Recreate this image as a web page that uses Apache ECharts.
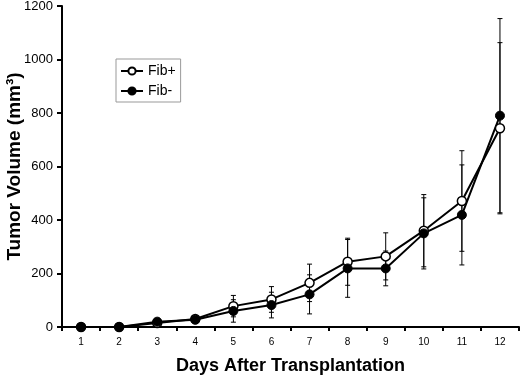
<!DOCTYPE html>
<html>
<head>
<meta charset="utf-8">
<script src="https://cdn.jsdelivr.net/npm/echarts@6/dist/echarts.min.js"></script>
<style>
html,body{margin:0;padding:0;background:#fff;}
#chartContainer{width:520px;height:375px;}
</style>
</head>
<body>
<div id="chartContainer"></div>
<script>
// 数据
var days = ['1','2','3','4','5','6','7','8','9','10','11','12'];
var fibPlus = [0,0,15,30,78,103,165,244,264,360,471,743];
var fibMinus = [0,0,20,27,60,82,122,219,219,350,419,790];
var fibPlusErr = [0,0,5,12,40,48,70,88,88,135,188,320];
var fibMinusErr = [0,0,5,10,42,48,73,108,65,133,187,363];
var yTicks = [0,200,400,600,800,1000,1200];

var myChar = echarts.init(document.getElementById('chartContainer'));

//误差棒数据
function errData(vals,errs){
	var out = [];
	for(var i=0;i<vals.length;i++){
		if(errs[i]>0) out.push([i, vals[i]-errs[i], vals[i]+errs[i]]);
	}
	return out;
}
function renderErr(params,api){
	var x = api.value(0);
	var lo = api.coord([x, api.value(1)]);
	var hi = api.coord([x, api.value(2)]);
	var hw = 2.5;
	var style = {stroke:'#000',lineWidth:1};
	return {type:'group',children:[
		{type:'line',shape:{x1:lo[0],y1:lo[1],x2:hi[0],y2:hi[1]},style:style},
		{type:'line',shape:{x1:lo[0]-hw,y1:lo[1],x2:lo[0]+hw,y2:lo[1]},style:style},
		{type:'line',shape:{x1:hi[0]-hw,y1:hi[1],x2:hi[0]+hw,y2:hi[1]},style:style}
	]};
}

var option = {
	backgroundColor:'#fff',
	animation:false,
	textStyle:{fontFamily:'Liberation Sans'},
	grid:{left:62,right:1,top:6,bottom:48,containLabel:false,outerBoundsMode:'none'},
	legend:{
		orient:'vertical',left:116,top:59,
		data:['Fib+','Fib-'],
		borderColor:'#999',borderWidth:1,
		padding:[5,5,4,4],
		itemWidth:22,itemHeight:9,itemGap:6,
		textStyle:{fontSize:14,color:'#000',fontFamily:'Liberation Sans'}
	},
	xAxis:{
		type:'category',data:days,boundaryGap:true,
		name:'Days After Transplantation',nameLocation:'middle',nameGap:30,nameMoveOverlap:false,
		nameTextStyle:{fontSize:18,fontWeight:'bold',color:'#000',fontFamily:'Liberation Sans'},
		axisLine:{lineStyle:{color:'#000',width:2}},
		axisTick:{show:true,length:4,inside:false,lineStyle:{color:'#000',width:2}},
		axisLabel:{fontSize:10,color:'#000',margin:10}
	},
	yAxis:{
		type:'value',min:0,max:1200,interval:200,
		name:'Tumor Volume (mm³)',nameLocation:'middle',nameGap:38,nameMoveOverlap:false,
		nameTextStyle:{fontSize:19,fontWeight:'bold',color:'#000',fontFamily:'Liberation Sans'},
		axisLine:{show:true,lineStyle:{color:'#000',width:2}},
		axisTick:{show:true,length:5,lineStyle:{color:'#000',width:2}},
		splitLine:{show:false},
		axisLabel:{fontSize:13,color:'#000',margin:9,formatter:function(v){return yTicks.indexOf(v)>=0?String(v):'';}}
	},
	series:[
		{type:'custom',name:'errPlus',renderItem:renderErr,data:errData(fibPlus,fibPlusErr),encode:{x:0,y:[1,2]},z:1,silent:true},
		{type:'custom',name:'errMinus',renderItem:renderErr,data:errData(fibMinus,fibMinusErr),encode:{x:0,y:[1,2]},z:1,silent:true},
		{type:'line',name:'Fib+',data:fibPlus,symbol:'circle',symbolSize:9,z:3,
			lineStyle:{color:'#000',width:2},
			itemStyle:{color:'#fff',borderColor:'#000',borderWidth:1.5}},
		{type:'line',name:'Fib-',data:fibMinus,symbol:'circle',symbolSize:9,z:3,
			lineStyle:{color:'#000',width:2},
			itemStyle:{color:'#000',borderColor:'#000',borderWidth:1}}
	]
};
myChar.setOption(option);
</script>
</body>
</html>
